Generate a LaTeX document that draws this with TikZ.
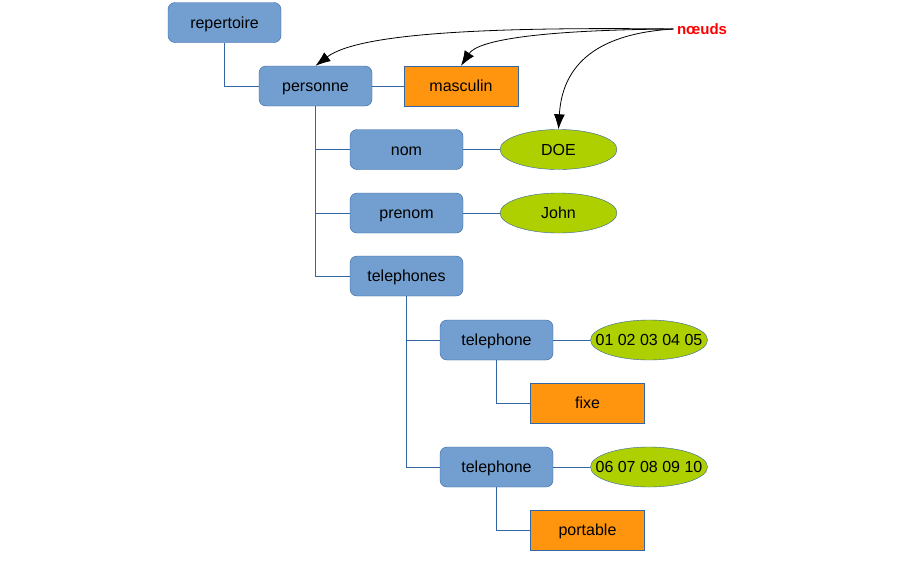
\documentclass[tikz,border=0pt]{standalone}
\usepackage{fontspec}
\setmainfont{Liberation Sans}
\usepackage{tikz}
\usetikzlibrary{arrows.meta,shapes.geometric}
\definecolor{boxblue}{RGB}{114,159,207}
\definecolor{lineblue}{RGB}{52,101,164}
\definecolor{leaforange}{RGB}{255,149,14}
\definecolor{leafgreen}{RGB}{174,207,0}
\tikzset{
	every node/.style={text height=13pt,text depth=2pt},
	elem/.style={draw=lineblue,fill=boxblue,rounded corners=7pt,minimum width=113pt,minimum height=40pt,inner sep=0pt},
	attr/.style={draw=lineblue,fill=leaforange,minimum width=114pt,minimum height=40pt,inner sep=0pt},
	txt/.style={draw=lineblue,fill=leafgreen,ellipse,minimum width=117pt,minimum height=40pt,inner xsep=-12pt,inner ysep=0pt},
	link/.style={lineblue,line width=0.8pt},
	hint/.style={black,line width=0.8pt,-{Latex[length=15pt,width=11pt]}}
}
\begin{document}
\begin{tikzpicture}[x=1pt,y=-1pt,font=\fontsize{16}{18}\selectfont]
		\useasboundingbox[fill=white] (0,0) rectangle (900,560);
		% elements
		\node[elem] (rep) at (224.5,22.5) {repertoire};
		\node[elem] (pers) at (315.5,86) {personne};
		\node[elem] (nom) at (406.5,149.5) {nom};
		\node[elem] (pren) at (406.5,213) {prenom};
		\node[elem] (tels) at (406.5,276) {telephones};
		\node[elem] (tel1) at (496.5,340) {telephone};
		\node[elem] (tel2) at (496.5,467) {telephone};
		% attributs
		\node[attr] (masc) at (461,86) {masculin};
		\node[attr] (fixe) at (587.5,403) {fixe};
		\node[attr] (port) at (587.5,530) {portable};
		% textes
		\node[txt] (doe) at (558.5,149.5) {DOE};
		\node[txt] (john) at (558.5,213) {John};
		\node[txt] (num1) at (649,340) {01 02 03 04 05};
		\node[txt] (num2) at (649,467) {06 07 08 09 10};
		\node[red,font=\fontsize{15}{18}\selectfont\bfseries] (noeuds) at (702,29) {nœuds};
		% liens
		\draw[link] (rep.south) |- (pers.west);
		\draw[link] (pers.east) -- (masc.west);
		\draw[link] (pers.south) |- (nom.west);
		\draw[link] (pers.south) |- (pren.west);
		\draw[link] (pers.south) |- (tels.west);
		\draw[link] (nom.east) -- (doe.west);
		\draw[link] (pren.east) -- (john.west);
		\draw[link] (tels.south) |- (tel1.west);
		\draw[link] (tels.south) |- (tel2.west);
		\draw[link] (tel1.east) -- (num1.west);
		\draw[link] (tel2.east) -- (num2.west);
		\draw[link] (tel1.south) |- (fixe.west);
		\draw[link] (tel2.south) |- (port.west);
		% fleches
		\draw[hint] (noeuds.west) .. controls (500,27) and (360,32) .. (pers.north);
		\draw[hint] (noeuds.west) .. controls (540,30) and (478,40) .. (masc.north);
		\draw[hint] (noeuds.west) .. controls (590,34) and (562,70) .. (doe.north);
	\end{tikzpicture}
\end{document}
